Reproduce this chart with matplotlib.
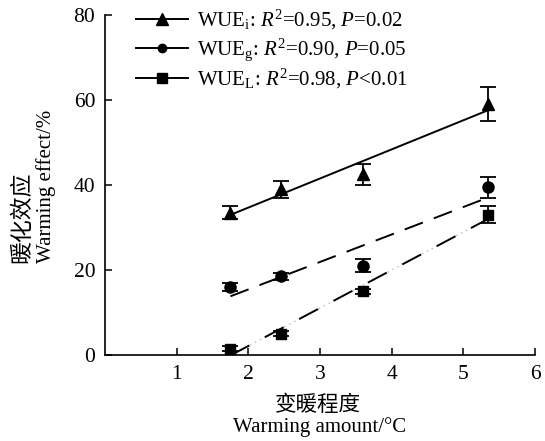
import numpy as np
import matplotlib
matplotlib.use("Agg")
import matplotlib.pyplot as plt

plt.rcParams['font.family'] = ['Liberation Serif', 'Noto Sans CJK SC', 'DejaVu Sans']
plt.rcParams['mathtext.fontset'] = 'custom'
plt.rcParams['mathtext.rm'] = 'Liberation Serif'
plt.rcParams['mathtext.it'] = 'Liberation Serif:italic'

warming = [1.75, 2.45, 3.6, 5.35]
wue_i = [33.5, 39.0, 42.5, 59.0]
wue_i_err = [1.5, 2.0, 2.5, 4.0]
wue_g = [16.0, 18.5, 21.0, 39.5]
wue_g_err = [1.0, 0.8, 1.5, 2.5]
wue_l = [1.5, 5.0, 15.0, 33.0]
wue_l_err = [0.6, 0.6, 0.6, 2.0]
labels = ["WUE$_\\mathrm{i}$: $R^2$=0.95, $P$=0.02",
          "WUE$_\\mathrm{g}$: $R^2$=0.90, $P$=0.05",
          "WUE$_\\mathrm{L}$: $R^2$=0.98, $P$<0.01"]

W, H = 545, 441
fig = plt.figure(figsize=(W / 100, H / 100), dpi=100)
ax = fig.add_axes([105 / W, 1 - 355 / H, 430 / W, 340 / H])

x = np.array(warming)
xs = np.array([x.min(), x.max()])

def fit(y):
    k, b = np.polyfit(x, np.array(y), 1)
    return k * xs + b

ax.plot(xs, fit(wue_i), color='black', lw=1.4)
ax.plot(xs, fit(wue_g), color='black', lw=1.4, dashes=(10, 6))
yl = fit(wue_l)
ax.plot(xs, yl, color='#bbbbbb', lw=1.0, dashes=(1, 3))
ax.plot(xs, yl, color='black', lw=1.4, dashes=(11, 9))

common = dict(color='black', ecolor='black', elinewidth=1.3, capsize=6, capthick=1.3,
              linestyle='none', zorder=5)
ax.errorbar(x, wue_i, yerr=wue_i_err, marker='^', markersize=9, **common)
ax.errorbar(x, wue_g, yerr=wue_g_err, marker='o', markersize=8, **common)
ax.errorbar(x, wue_l, yerr=wue_l_err, marker='s', markersize=7.5, **common)

hs = []
for m, ms in zip(['^', 'o', 's'], [8, 6, 7]):
    h, = ax.plot([], [], color='black', lw=1.4, marker=m, markersize=ms)
    hs.append(h)
ax.legend(hs, labels, loc='upper left', bbox_to_anchor=(0.052, 1.045), frameon=False,
          fontsize=15, handlelength=2.5, handletextpad=0.45, labelspacing=0.2,
          borderaxespad=0.0)

ax.set_xlim(0, 6)
ax.set_ylim(0, 80)
ax.set_xticks([1, 2, 3, 4, 5, 6])
ax.set_yticks([0, 20, 40, 60, 80])
ax.tick_params(direction='in', labelsize=15.5, length=5, width=1.1, pad=7)
for s in ['top', 'right']:
    ax.spines[s].set_visible(False)
for s in ['left', 'bottom']:
    ax.spines[s].set_linewidth(1.2)

cjk = ['Noto Sans CJK SC', 'DejaVu Sans']
fig.text(318 / W, 1 - 405 / H, "变暖程度", fontsize=15.5, family=cjk, ha='center', va='center')
fig.text(320 / W, 1 - 427 / H, "Warming amount/°C", fontsize=15, ha='center', va='center')
fig.text(22 / W, 1 - 263 / H, "暖化效应", fontsize=16.5, family=cjk, rotation=90,
         ha='center', va='bottom')
fig.text(46 / W, 1 - 263 / H, "Warming effect/%", fontsize=15, rotation=90,
         ha='center', va='bottom')

fig.savefig("out.png", dpi=100)
